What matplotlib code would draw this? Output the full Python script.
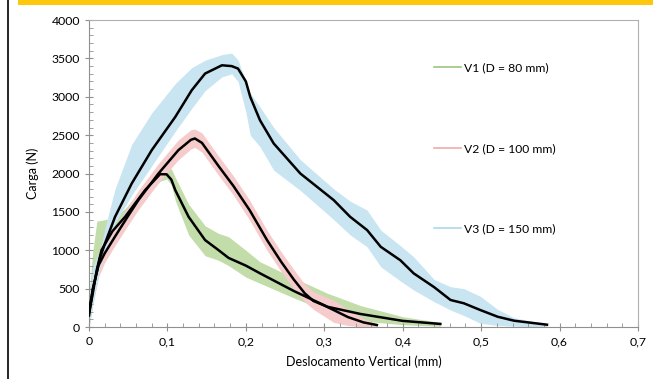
import numpy as np
import matplotlib
matplotlib.use("Agg")
import matplotlib.pyplot as plt
from matplotlib.ticker import MultipleLocator, FuncFormatter
from matplotlib.lines import Line2D
from matplotlib.patches import Rectangle

plt.rcParams['font.family'] = ['Lato', 'DejaVu Sans']

# V1 (D = 80 mm)
v1_x = [0, 0.005, 0.01, 0.016, 0.03, 0.046, 0.0715, 0.0907, 0.099, 0.105, 0.11, 0.127, 0.148, 0.165, 0.178, 0.2, 0.218, 0.261, 0.304, 0.346, 0.4, 0.448]
v1_y = [180, 450, 750, 1003, 1250, 1436, 1784, 1992, 1990, 1920, 1784, 1436, 1133, 1003, 900, 800, 700, 470, 264, 170, 80, 40]
v1_lo = [0, 300, 550, 850, 1100, 1330, 1690, 1900, 1930, 1850, 1650, 1200, 930, 870, 800, 650, 570, 380, 200, 80, 30, 10]
v1_hi = [400, 1000, 1380, 1390, 1420, 1540, 1860, 2040, 2060, 2060, 1950, 1600, 1320, 1220, 1176, 1000, 850, 640, 440, 280, 134, 60]

# V2 (D = 100 mm)
v2_x = [0, 0.005, 0.012, 0.02, 0.033, 0.05, 0.063, 0.0885, 0.114, 0.13, 0.135, 0.144, 0.165, 0.184, 0.205, 0.227, 0.245, 0.261, 0.275, 0.286, 0.3, 0.312, 0.33, 0.35, 0.367]
v2_y = [200, 500, 800, 960, 1176, 1450, 1654, 2000, 2305, 2440, 2457, 2400, 2100, 1840, 1520, 1133, 850, 620, 440, 340, 280, 221, 130, 60, 26]
v2_lo = [0, 350, 650, 840, 1060, 1330, 1530, 1880, 2180, 2320, 2340, 2280, 1980, 1720, 1390, 1000, 720, 500, 330, 230, 140, 60, 20, 0, 0]
v2_hi = [400, 650, 950, 1080, 1300, 1570, 1780, 2130, 2440, 2570, 2580, 2530, 2230, 1970, 1650, 1260, 980, 750, 560, 460, 400, 350, 230, 110, 40]

# V3 (D = 150 mm)
v3_x = [0, 0.005, 0.014, 0.0204, 0.0332, 0.0545, 0.08, 0.11, 0.131, 0.148, 0.1695, 0.182, 0.19, 0.2, 0.2056, 0.218, 0.2355, 0.2695, 0.312, 0.333, 0.3546, 0.372, 0.397, 0.414, 0.44, 0.461, 0.478, 0.499, 0.521, 0.542, 0.584]
v3_y = [150, 500, 900, 1090, 1436, 1871, 2305, 2738, 3086, 3303, 3411, 3400, 3368, 3200, 2999, 2695, 2392, 2000, 1654, 1436, 1263, 1045, 870, 699, 520, 352, 309, 221, 134, 82, 30]
v3_lo = [0, 300, 800, 1000, 1350, 1720, 2100, 2550, 2850, 3080, 3260, 3300, 3200, 2800, 2500, 2350, 2044, 1780, 1400, 1200, 1045, 785, 600, 482, 330, 221, 150, 48, 20, 10, 0]
v3_hi = [400, 800, 1000, 1290, 1800, 2380, 2790, 3173, 3380, 3477, 3550, 3570, 3480, 3200, 3050, 2868, 2600, 2180, 1800, 1640, 1524, 1263, 1060, 915, 620, 525, 500, 400, 230, 120, 40]

labels = ['V1 (D = 80 mm)', 'V2 (D = 100 mm)', 'V3 (D = 150 mm)']
band_colors = ['#c2dcaa', '#f5cccb', '#c9e5f1']
legend_colors = ['#9cc67f', '#f0acab', '#acd9ec']

fig = plt.figure(figsize=(6.53, 3.79), dpi=100)
ax = fig.add_axes([0.1363, 0.1372, 0.8407, 0.8098])

series = [(v1_x, v1_y, v1_lo, v1_hi), (v2_x, v2_y, v2_lo, v2_hi), (v3_x, v3_y, v3_lo, v3_hi)]
for (x, y, lo, hi), bc in zip(series, band_colors):
    ax.fill_between(x, lo, hi, color=bc, linewidth=0, zorder=1)
for (x, y, lo, hi) in series:
    ax.plot(x, y, color='black', linewidth=1.8, zorder=3)

ax.set_xlim(0, 0.7)
ax.set_ylim(0, 4000)
ax.xaxis.set_major_locator(MultipleLocator(0.1))
ax.xaxis.set_minor_locator(MultipleLocator(0.02))
ax.yaxis.set_major_locator(MultipleLocator(500))
ax.yaxis.set_minor_locator(MultipleLocator(100))
ax.xaxis.set_major_formatter(FuncFormatter(lambda v, p: ('%g' % round(v, 2)).replace('.', ',')))
ax.tick_params(which='major', direction='inout', length=6, width=0.8, color='#909090', labelsize=8.8)
ax.tick_params(which='minor', direction='in', length=3, width=0.6, color='#909090')
for s in ax.spines.values():
    s.set_color('#b0b0b0')
    s.set_linewidth(0.8)
ax.spines['left'].set_color('#909090')
ax.spines['bottom'].set_color('#909090')

ax.set_xlabel('Deslocamento Vertical (mm)', fontsize=9, labelpad=6)
ax.set_ylabel('Carga (N)', fontsize=9, labelpad=9)

handles = [Line2D([0], [0], color=c, linewidth=1.2) for c in legend_colors]
ax.legend(handles, labels, loc='upper left', bbox_to_anchor=(0.609, 0.897), frameon=False,
          fontsize=8.7, labelspacing=5.75, handlelength=2.2, handletextpad=0.3)

# page decorations
fig.add_artist(Rectangle((18 / 653, 1 - 5 / 379), 1, 5 / 379, transform=fig.transFigure,
                         color='#fcc70c', linewidth=0))
fig.add_artist(Line2D([8 / 653, 8 / 653], [0, 1], transform=fig.transFigure, color='black', linewidth=1.2))

fig.savefig('out.png', dpi=100)
